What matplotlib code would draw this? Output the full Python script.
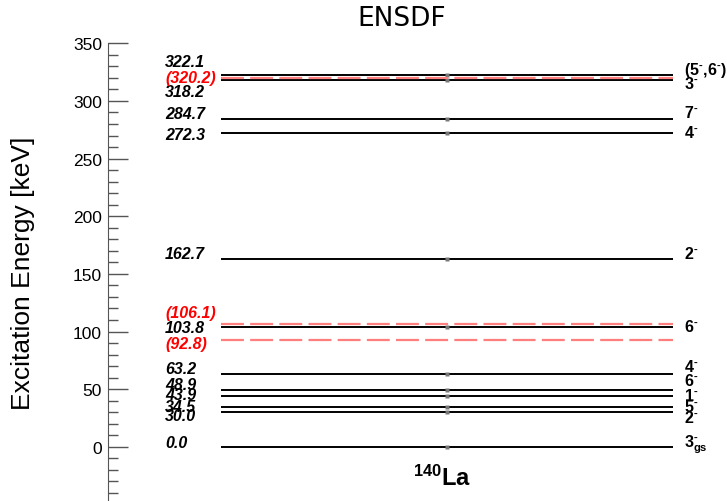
import matplotlib
matplotlib.use('Agg')
import matplotlib.pyplot as plt
from matplotlib.ticker import MultipleLocator

plt.rcParams['font.family'] = 'Liberation Sans'
plt.rcParams['mathtext.fontset'] = 'custom'
plt.rcParams['mathtext.rm'] = 'Liberation Sans:bold'
plt.rcParams['mathtext.bf'] = 'Liberation Sans:bold'
plt.rcParams['mathtext.it'] = 'Liberation Sans:bold'
plt.rcParams['lines.scale_dashes'] = False

# known levels (keV) and spins
M = r'$^{\text{-}}$'
level_energy = [0.0, 30.0, 34.5, 43.9, 48.9, 63.2, 103.8, 162.7, 272.3, 284.7, 318.2, 322.1]
level_spin = [r'3$^{\text{-}}_{\mathrm{gs}}$', '2' + M, '5' + M, '1' + M, '6' + M, '4' + M,
              '6' + M, '2' + M, '4' + M, '7' + M, '3' + M, '(5' + M + ',6' + M + ')']
# tentative levels (red, dashed)
tentative_energy = [92.8, 106.1, 320.2]

# where the text labels sit (keV), spread out so they do not overlap
left_label_at = [-0.5, 23.5, 31.3, 41.8, 50.5, 64.4, 99.4, 163.4, 266.8, 285.0, 304.3, 330.4]
right_label_at = [0.4, 21.5, 31.4, 40.9, 53.9, 65.5, 100.3, 163.5, 268.5, 286.1, 311.5, 323.5]
tentative_label_at = [85.8, 112.4, 316.8]

W, H = 727, 502
fig = plt.figure(figsize=(W / 100, H / 100), dpi=100)
ax = fig.add_axes([108 / W, 0, 1 - 108 / W, (H - 44.3) / H])
ax.set_xlim(0, 1)
ax.set_ylim(-47, 350)

x0, x1 = (221 - 108) / 619, (673 - 108) / 619
xc = (x0 + x1) / 2
xl = (165 - 108) / 619
xr = (684 - 108) / 619

for e, spin, yl, yr in zip(level_energy, level_spin, left_label_at, right_label_at):
    ax.plot([x0, x1], [e, e], color='black', lw=1.4, solid_capstyle='butt')
    ax.plot([xc], [e], marker='s', ms=2.5, color='#777777', mec='none')
    ax.text(xl, yl, '%.1f' % e, fontsize=11.5, fontweight='bold', style='italic',
            ha='left', va='baseline')
    ax.text(xr, yr, spin, fontsize=11.5, fontweight='bold', ha='left', va='baseline')

for e, yl in zip(tentative_energy, tentative_label_at):
    ax.plot([x0, x1], [e, e], color='#ff7f7f', lw=1.6, dashes=(16.5, 4.5))
    ax.text(xl, yl, '(%.1f)' % e, fontsize=11.5, fontweight='bold', style='italic',
            color='red', ha='left', va='baseline')

ax.text((442.5 - 108) / 619, -32.7, r'$^{140}$La', fontsize=17, fontweight='bold',
        ha='center', va='baseline')

for s in ['top', 'right', 'bottom']:
    ax.spines[s].set_visible(False)
ax.spines['left'].set_color('#555555')
ax.set_xticks([])
ax.yaxis.set_major_locator(MultipleLocator(50))
ax.yaxis.set_minor_locator(MultipleLocator(10))
ax.tick_params(axis='y', which='major', direction='in', length=14.4, width=1,
               color='#555555', labelsize=12.5, pad=4.3)
ax.tick_params(axis='y', which='minor', direction='in', length=7.2, width=1, color='#555555')
ax.set_yticks([0, 50, 100, 150, 200, 250, 300, 350])

fig.text(23 / W, 1 - 273 / H, 'Excitation Energy [keV]', rotation=90, fontsize=19,
         ha='center', va='center')
fig.text(402 / W, 1 - 19 / H, 'ENSDF', family='DejaVu Sans', fontsize=19,
         ha='center', va='center')

fig.savefig('out.png', dpi=100)
